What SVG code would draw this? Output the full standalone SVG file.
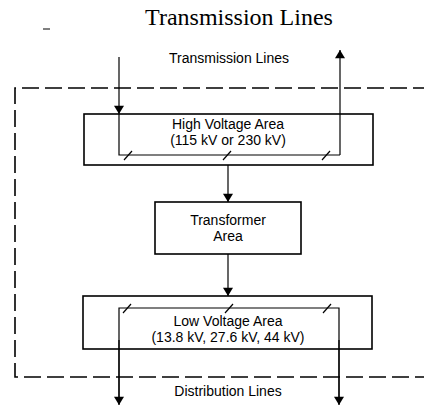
<svg xmlns="http://www.w3.org/2000/svg" width="424" height="415" viewBox="0 0 424 415">
<defs>
<marker id="ah" viewBox="0 0 10 12" refX="10" refY="6" markerWidth="12" markerHeight="10" markerUnits="userSpaceOnUse" orient="auto">
<path d="M0,0 L10,6 L0,12 Z" fill="#000"/>
</marker>
</defs>
<style>
.box{fill:none;stroke:#000;stroke-width:1.6}
.ln{fill:none;stroke:#000;stroke-width:1.2}
.arr{fill:none;stroke:#000;stroke-width:1.2;marker-end:url(#ah)}
.dash{fill:none;stroke:#000;stroke-width:1.6;stroke-dasharray:17 6}
.t{font-family:"Liberation Sans",Arial,sans-serif;font-size:14px;text-anchor:middle;fill:#000}
.title{font-family:"Liberation Serif","Times New Roman",serif;font-size:24px;text-anchor:middle;fill:#000}
</style>
<rect width="424" height="415" fill="#fff"/>
<text class="title" x="239" y="25">Transmission Lines</text>
<line x1="43" y1="29" x2="50" y2="29" stroke="#000" stroke-width="1"/>
<text class="t" x="229" y="63">Transmission Lines</text>
<path class="dash" d="M430,88 H15 V377 H430"/>
<g id="connectors">
<line class="arr" x1="119" y1="57" x2="119" y2="114"/>
<line class="arr" x1="340" y1="155" x2="340" y2="50"/>
<path class="ln" d="M119,114 V155 H340"/>
<line class="ln" x1="124" y1="160" x2="132" y2="151"/>
<line class="ln" x1="223" y1="160" x2="231" y2="151"/>
<line class="ln" x1="322" y1="160" x2="330" y2="151"/>
<line class="arr" x1="228" y1="165" x2="228" y2="202"/>
<line class="arr" x1="228" y1="254" x2="228" y2="296"/>
<path class="ln" d="M119,404 V308 H339 V404"/>
<line class="arr" x1="119" y1="340" x2="119" y2="405"/>
<line class="arr" x1="339" y1="340" x2="339" y2="405"/>
<line class="ln" x1="123" y1="313" x2="131" y2="304"/>
<line class="ln" x1="225" y1="313" x2="233" y2="304"/>
<line class="ln" x1="323" y1="313" x2="331" y2="304"/>
</g>
<g id="high-voltage">
<rect class="box" x="84" y="114" width="289" height="51"/>
<text class="t" x="228" y="129">High Voltage Area</text>
<text class="t" x="228" y="145">(115 kV or 230 kV)</text>
</g>
<g id="transformer">
<rect class="box" x="155" y="202" width="146" height="52"/>
<text class="t" x="228" y="225">Transformer</text>
<text class="t" x="228" y="241">Area</text>
</g>
<g id="low-voltage">
<rect class="box" x="83" y="296" width="289" height="53"/>
<text class="t" x="228" y="326">Low Voltage Area</text>
<text class="t" x="228" y="342">(13.8 kV, 27.6 kV, 44 kV)</text>
</g>
<text class="t" x="228" y="396">Distribution Lines</text>
</svg>
